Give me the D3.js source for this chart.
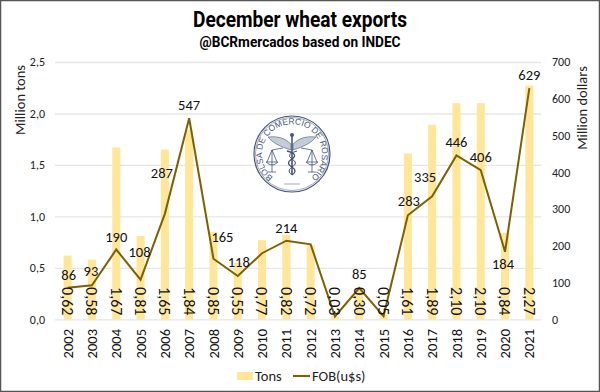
<!DOCTYPE html>
<html>
<head>
<meta charset="utf-8">
<script src="https://cdn.jsdelivr.net/npm/d3@7"></script>
<style>
  html, body { margin: 0; padding: 0; background: #fff; }
  svg { display: block; }
  text { font-family: Carlito, Lato, sans-serif; }
</style>
</head>
<body>
<svg id="chart"></svg>
<script>
const years = ['2002','2003','2004','2005','2006','2007','2008','2009','2010','2011','2012','2013','2014','2015','2016','2017','2018','2019','2020','2021'];
const tons = [0.62,0.58,1.67,0.81,1.65,1.84,0.85,0.55,0.77,0.82,0.72,0.03,0.30,0.05,1.61,1.89,2.10,2.10,0.84,2.27];
const fob = [86,93,190,108,287,547,165,118,180,214,204,8,85,9,283,335,446,406,184,629];
// 2010, 2012, 2013, 2015 have no printed label on the line
const fobLabels = ['86','93','190','108','287','547','165','118','','214','','','85','','283','335','446','406','184','629'];
const labelShift = [[1,-13],[-1,-14],[0,-13],[-1,-28],[-3,-41],[0,-13],[9,-22],[1,-14],[0,0],[0,-13],[0,0],[0,0],[0,-14],[0,0],[1,-14],[-7,-19],[0,-13],[0,-13],[-2,12],[0,-13]];
const tonTicks = [0,0.5,1,1.5,2,2.5];
const fobTicks = [0,100,200,300,400,500,600,700];

const width = 600, height = 392;
const margin = { top: 62, right: 59, bottom: 72.6, left: 55 };
const innerWidth = width - margin.left - margin.right;
const innerHeight = height - margin.top - margin.bottom;
const comma = d => d3.format('.1f')(d).replace('.', ',');

const svg = d3.select('#chart').attr('width', width).attr('height', height);

svg.append('rect').attr('x', 0.5).attr('y', 0.5).attr('width', width - 1).attr('height', height - 1)
  .attr('fill', '#fff').attr('stroke', '#555').attr('stroke-width', 1.5);

const xScale = d3.scaleBand().domain(years).range([0.5, innerWidth + 0.5]).paddingInner(0.67).paddingOuter(0.335);
const yLeft = d3.scaleLinear().domain([0, 2.5]).range([innerHeight, 0]);
const yRight = d3.scaleLinear().domain([0, 700]).range([innerHeight, 0]);
const xMid = d => xScale(d) + xScale.bandwidth() / 2;

const g = svg.append('g').attr('transform', `translate(${margin.left},${margin.top})`);

// grid + left axis
const yAxisG = g.append('g').call(d3.axisLeft(yLeft).tickValues(tonTicks).tickFormat(comma).tickSize(-innerWidth).tickPadding(10));
yAxisG.select('.domain').remove();
yAxisG.selectAll('line').attr('stroke', '#e6e6e6').attr('stroke-width', 1.3);
yAxisG.selectAll('text').attr('fill', '#222').style('font-size', '12px');

const yAxisR = g.append('g').attr('transform', `translate(${innerWidth},0)`)
  .call(d3.axisRight(yRight).tickValues(fobTicks).tickSize(0).tickPadding(11));
yAxisR.select('.domain').remove();
yAxisR.selectAll('text').attr('fill', '#222').style('font-size', '12px');

g.selectAll('rect.bar').data(years).enter().append('rect')
  .attr('class', 'bar')
  .attr('x', d => xScale(d))
  .attr('y', (d, i) => yLeft(tons[i]))
  .attr('width', xScale.bandwidth())
  .attr('height', (d, i) => innerHeight - yLeft(tons[i]))
  .attr('fill', '#ffe699');

// x axis
const xAxisG = g.append('g').attr('transform', `translate(0,${innerHeight})`)
  .call(d3.axisBottom(xScale).tickSize(0).tickPadding(0));
xAxisG.select('.domain').remove();
xAxisG.selectAll('text')
  .attr('transform', 'rotate(-90)')
  .attr('x', -39).attr('y', 0).attr('dy', '0.35em')
  .attr('text-anchor', 'start')
  .attr('fill', '#111')
  .style('font-size', '14.5px');

const line = d3.line().x((d, i) => xMid(years[i])).y(d => yRight(d));
g.append('path').datum(fob).attr('d', line)
  .attr('fill', 'none').attr('stroke', '#7f6000').attr('stroke-width', 2);

// bar values
g.selectAll('text.tons').data(tons).enter().append('text')
  .attr('class', 'tons')
  .attr('transform', (d, i) => `translate(${xMid(years[i])},${innerHeight - 4}) rotate(90)`)
  .attr('text-anchor', 'end')
  .attr('dy', '0.35em')
  .attr('fill', '#111')
  .style('font-size', '16px')
  .text(d => d3.format('.2f')(d).replace('.', ','));

// line values
g.selectAll('text.fob').data(fobLabels).enter().append('text')
  .attr('class', 'fob')
  .attr('x', (d, i) => xMid(years[i]) + labelShift[i][0])
  .attr('y', (d, i) => yRight(fob[i]) + labelShift[i][1])
  .attr('text-anchor', 'middle')
  .attr('dy', '0.35em')
  .attr('fill', '#111')
  .style('font-size', '14.5px')
  .text(d => d);

// axis titles
svg.append('text').attr('transform', 'translate(25,100) rotate(-90)')
  .attr('text-anchor', 'middle').attr('fill', '#222').style('font-size', '14.5px').text('Million tons');
svg.append('text').attr('transform', 'translate(587,108) rotate(-90)')
  .attr('text-anchor', 'middle').attr('fill', '#222').style('font-size', '14.5px').text('Million dollars');

svg.append('text').attr('x', 300).attr('y', 27).attr('text-anchor', 'middle')
  .attr('font-weight', 700).attr('fill', '#000')
  .attr('textLength', 214).attr('lengthAdjust', 'spacingAndGlyphs')
  .style('font-family', 'Roboto, sans-serif').style('font-size', '22px').text('December wheat exports');
svg.append('text').attr('x', 300).attr('y', 47).attr('text-anchor', 'middle')
  .attr('font-weight', 700).attr('fill', '#000')
  .attr('textLength', 201).attr('lengthAdjust', 'spacingAndGlyphs')
  .style('font-family', 'Roboto, sans-serif').style('font-size', '15px').text('@BCRmercados based on INDEC');

// legend
const legend = svg.append('g').attr('transform', `translate(237,376)`);
legend.append('rect').attr('width', 16).attr('height', 8).attr('y', -4).attr('fill', '#ffe699');
legend.append('text').attr('x', 18).attr('dy', '0.35em').attr('fill', '#222').style('font-size', '14.5px').text('Tons');
legend.append('line').attr('x1', 56).attr('x2', 73).attr('stroke', '#7f6000').attr('stroke-width', 2);
legend.append('text').attr('x', 75).attr('dy', '0.35em').attr('fill', '#222').style('font-size', '14.5px').text('FOB(u$s)');

// seal
const sealColor = '#45557a';
const seal = svg.append('g').attr('transform', 'translate(292,154)').attr('fill', 'none').attr('stroke', sealColor);
seal.append('circle').attr('r', 38).attr('stroke-width', 1.2);
seal.append('circle').attr('r', 36.5).attr('stroke-width', 0.5);
svg.append('defs').append('path').attr('id', 'sealArc').attr('d', 'M -16 25.5 A 30 30 0 1 1 16 25.5');
seal.append('text').attr('fill', sealColor).attr('stroke', 'none').style('font-family', '"Liberation Sans", sans-serif').style('font-size', '8.5px')
  .append('textPath').attr('href', '#sealArc').attr('startOffset', '50%').attr('text-anchor', 'middle').text('BOLSA DE COMERCIO DE ROSARIO');
// staff and wings
seal.append('line').attr('x1', 0).attr('x2', 0).attr('y1', -18).attr('y2', 21).attr('stroke-width', 1.6);
seal.append('circle').attr('cy', -19).attr('r', 2).attr('fill', sealColor).attr('stroke', 'none');
seal.append('path').attr('d', 'M -1 -10 Q -10 -19 -24 -17 Q -18 -9 -1 -4 Z').attr('fill', '#c5ccd9').attr('stroke-width', 0.6);
seal.append('path').attr('d', 'M 1 -10 Q 10 -19 24 -17 Q 18 -9 1 -4 Z').attr('fill', '#c5ccd9').attr('stroke-width', 0.6);
// snakes
seal.append('path').attr('d', 'M -5 -3 Q 7 0 0 5 Q -7 9 0 13 Q 6 17 0 21').attr('stroke-width', 1.3);
seal.append('path').attr('d', 'M 5 -3 Q -7 0 0 5 Q 7 9 0 13 Q -6 17 0 21').attr('stroke-width', 1);
// scales
seal.append('path').attr('d', 'M -20 -4 L -9 -6 M -20 -4 L -25 8 M -20 -4 L -15 8 M -26 8 Q -20 14 -14 8 Z M -20 -4 L -20 18 M -24 18 L -16 18').attr('stroke-width', 0.8);
seal.append('path').attr('d', 'M 20 -4 L 9 -6 M 20 -4 L 25 8 M 20 -4 L 15 8 M 26 8 Q 20 14 14 8 Z M 20 -4 L 20 18 M 24 18 L 16 18').attr('stroke-width', 0.8);
seal.append('line').attr('x1', -8).attr('x2', 8).attr('y1', 30).attr('y2', 30).attr('stroke-width', 0.5);
</script>
</body>
</html>
